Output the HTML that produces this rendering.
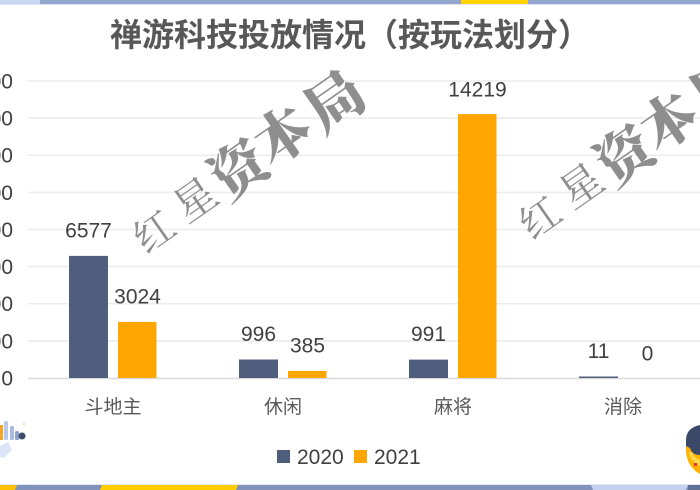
<!DOCTYPE html>
<html>
<head>
<meta charset="utf-8">
<style>
html,body{margin:0;padding:0;background:#fff;}
body{width:700px;height:490px;overflow:hidden;position:relative;}
svg{display:block;}
text{font-family:"Liberation Sans","Noto Sans CJK SC",sans-serif;}
</style>
</head>
<body>
<svg width="700" height="490" viewBox="0 0 700 490" xmlns="http://www.w3.org/2000/svg">
  <rect x="0" y="0" width="700" height="490" fill="#ffffff"/>

  <!-- top bar -->
  <rect x="0" y="0" width="700" height="4" fill="#93a6d0"/>
  <rect x="0" y="0" width="40" height="4" fill="#c9d6ef"/>
  <rect x="461" y="0" width="67" height="4" fill="#ffd200"/>
  <rect x="0" y="4" width="700" height="1" fill="#dfe5f2"/>

  <!-- gridlines -->
  <g stroke="#ececec" stroke-width="1.6">
    <line x1="28" y1="81" x2="700" y2="81"/>
    <line x1="28" y1="118.1" x2="700" y2="118.1"/>
    <line x1="28" y1="155.25" x2="700" y2="155.25"/>
    <line x1="28" y1="192.4" x2="700" y2="192.4"/>
    <line x1="28" y1="229.5" x2="700" y2="229.5"/>
    <line x1="28" y1="266.6" x2="700" y2="266.6"/>
    <line x1="28" y1="303.75" x2="700" y2="303.75"/>
    <line x1="28" y1="340.9" x2="700" y2="340.9"/>
  </g>
  <line x1="28" y1="378.5" x2="700" y2="378.5" stroke="#d9d9d9" stroke-width="1.6"/>

  <!-- y labels -->
  <g font-size="21" fill="#404040" text-anchor="end">
    <text x="13" y="88.5">16000</text>
    <text x="13" y="125.6">14000</text>
    <text x="13" y="162.7">12000</text>
    <text x="13" y="199.9">10000</text>
    <text x="13" y="237">8000</text>
    <text x="13" y="274.1">6000</text>
    <text x="13" y="311.2">4000</text>
    <text x="13" y="348.4">2000</text>
    <text x="13" y="385.5">0</text>
  </g>

  <!-- watermark 1 -->
  <g fill="#8e8e8e" text-anchor="middle" dominant-baseline="central">
    <text x="153" y="230" font-size="40" font-weight="400" transform="rotate(-35 153 230)" style="font-family:'Noto Serif CJK SC',serif">红</text>
    <text x="194" y="198" font-size="42" font-weight="400" transform="rotate(-35 194 198)" style="font-family:'Noto Serif CJK SC',serif">星</text>
    <text x="237" y="167" font-size="56" font-weight="900" transform="rotate(-35 237 167)" style="font-family:'Noto Serif CJK SC',serif">资</text>
    <text x="281" y="133" font-size="56" font-weight="900" transform="rotate(-35 281 133)" style="font-family:'Noto Serif CJK SC',serif">本</text>
    <text x="332" y="98" font-size="58" font-weight="900" transform="rotate(-35 332 98)" style="font-family:'Noto Serif CJK SC',serif">局</text>
  </g>
  <!-- watermark 2 -->
  <g fill="#8e8e8e" text-anchor="middle" dominant-baseline="central">
    <text x="539" y="216" font-size="40" font-weight="400" transform="rotate(-35 539 216)" style="font-family:'Noto Serif CJK SC',serif">红</text>
    <text x="580" y="184" font-size="42" font-weight="400" transform="rotate(-35 580 184)" style="font-family:'Noto Serif CJK SC',serif">星</text>
    <text x="623" y="153" font-size="56" font-weight="900" transform="rotate(-35 623 153)" style="font-family:'Noto Serif CJK SC',serif">资</text>
    <text x="667" y="119" font-size="56" font-weight="900" transform="rotate(-35 667 119)" style="font-family:'Noto Serif CJK SC',serif">本</text>
    <text x="718" y="84" font-size="58" font-weight="900" transform="rotate(-35 718 84)" style="font-family:'Noto Serif CJK SC',serif">局</text>
  </g>

  <!-- title -->
  <text x="110" y="46" font-size="32" font-weight="700" fill="#585858" style="font-family:'Noto Sans CJK SC',sans-serif">禅游科技投放情况（按玩法划分）</text>

  <!-- bars 2020 -->
  <g fill="#505e7e">
    <rect x="69" y="255.9" width="39" height="122.1"/>
    <rect x="239" y="359.5" width="39" height="18.5"/>
    <rect x="409" y="359.6" width="39" height="18.4"/>
    <rect x="579" y="376.5" width="39" height="1.5"/>
  </g>
  <!-- bars 2021 -->
  <g fill="#ffa600">
    <rect x="118" y="321.9" width="38.5" height="56.1"/>
    <rect x="288" y="370.9" width="38.5" height="7.1"/>
    <rect x="458" y="114.1" width="38.5" height="263.9"/>
  </g>

  <!-- data labels -->
  <g font-size="21" fill="#404040" text-anchor="middle">
    <text x="88.5" y="237.5">6577</text>
    <text x="137.5" y="303.5">3024</text>
    <text x="258.5" y="341">996</text>
    <text x="307.5" y="352.5">385</text>
    <text x="428.5" y="341">991</text>
    <text x="477.5" y="96.5">14219</text>
    <text x="598.5" y="358">11</text>
    <text x="647.5" y="360.5">0</text>
  </g>

  <!-- category labels -->
  <g font-size="19" fill="#595959" text-anchor="middle" style="font-family:'Noto Sans CJK SC',sans-serif">
    <text x="113" y="413">斗地主</text>
    <text x="283" y="413">休闲</text>
    <text x="453" y="413">麻将</text>
    <text x="623" y="413">消除</text>
  </g>

  <!-- legend -->
  <rect x="277" y="450" width="13" height="13" fill="#505e7e"/>
  <text x="297" y="464" font-size="21" fill="#404040">2020</text>
  <rect x="354" y="450" width="13" height="13" fill="#ffa600"/>
  <text x="374" y="464" font-size="21" fill="#404040">2021</text>

  <!-- bottom-left icon -->
  <rect x="0" y="425" width="3" height="15" fill="#f5a623"/>
  <rect x="4" y="421" width="4" height="19" fill="#b9c8ea" rx="1.5"/>
  <rect x="10" y="426" width="4" height="14" fill="#a9bbe3" rx="1.5"/>
  <rect x="15" y="431" width="4" height="9" fill="#8d9fca" rx="1.5"/>
  <circle cx="22" cy="436" r="3.5" fill="#3d4a6b"/>
  <circle cx="24" cy="424" r="1" fill="#ffd27a"/>
  <polygon points="0,446 8,442 12,450 4,458 0,457" fill="#dbe5f7"/>

  <!-- bottom-right icon -->
  <path d="M700,425 Q686,428 686,440 L686,452 Q690,456 700,456 Z" fill="#3c4868"/>
  <path d="M686,446 Q685,466 700,474 L700,455 Q692,455 690,448 Z" fill="#ffb300"/>
  <path d="M689,452 Q690,462 700,466 L700,460 Q694,458 692,452 Z" fill="#ffd54a"/>
  <rect x="694" y="463" width="3" height="3" fill="#e33"/>

  <!-- bottom bar -->
  <rect x="0" y="484" width="700" height="1" fill="#e4e8f1"/>
  <rect x="0" y="485" width="700" height="5" fill="#8193ba"/>
  <polygon points="0,485 17,485 15,490 0,490" fill="#ffc000"/>
  <polygon points="102,485 238,485 236,490 100,490" fill="#ffcd00"/>
  <polygon points="591,485 688,485 686,490 593,490" fill="#c3d1ee"/>
  <rect x="688" y="485" width="12" height="5" fill="#5f6f93"/>
</svg>
</body>
</html>
